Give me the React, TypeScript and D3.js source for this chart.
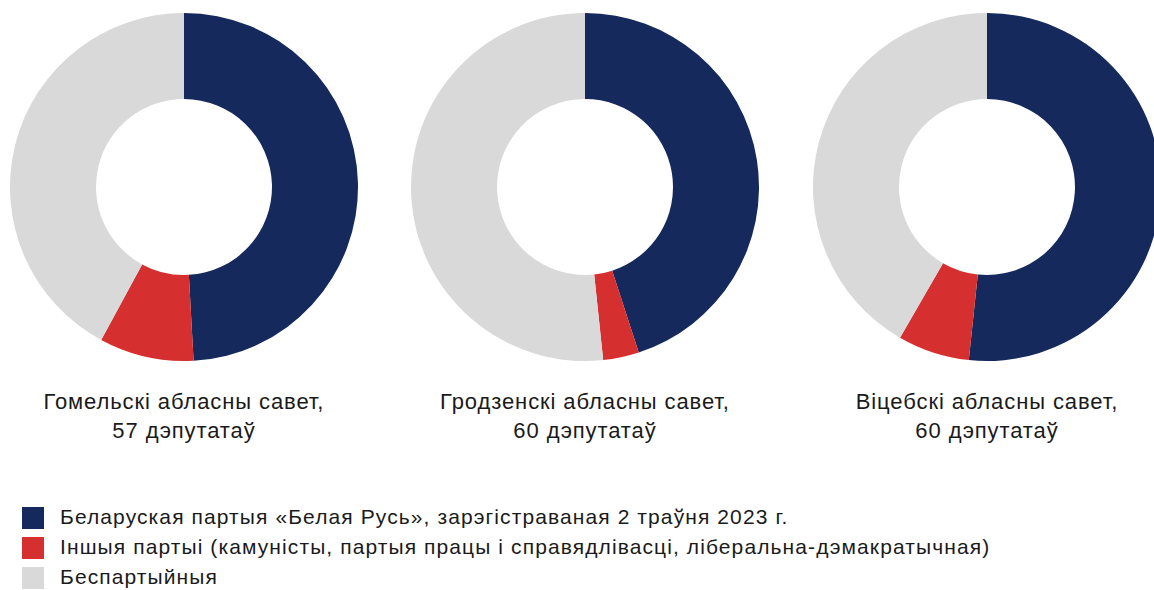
import React from "react";
import * as d3 from "d3";

const regions = ["Гомельскі абласны савет,", "Гродзенскі абласны савет,", "Віцебскі абласны савет,"];
const totals = ["57 дэпутатаў", "60 дэпутатаў", "60 дэпутатаў"];
const belayaRus = [28, 27, 31];
const otherParties = [5, 2, 4];
const nonParty = [24, 31, 25];
const legendLabels = [
  "Беларуская партыя «Белая Русь», зарэгістраваная 2 траўня 2023 г.",
  "Іншыя партыі (камуністы, партыя працы і справядлівасці, ліберальна-дэмакратычная)",
  "Беспартыйныя",
];
const colors = ["#15295c", "#d5302f", "#d9d9d9"];

const W = 1154;
const H = 590;
const centersX = [184, 585, 987];
const cy = 187;
const outerR = 174;
const innerR = 88;

export default function App() {
  const pie = d3.pie<number>().sort(null).value((d) => d);
  const arc = d3.arc<d3.PieArcDatum<number>>().innerRadius(innerR).outerRadius(outerR);
  const font = "'Liberation Sans', Arial, Helvetica, sans-serif";
  return (
    <svg width={W} height={H} style={{ position: "absolute", left: 0, top: 0, background: "#fff" }}>
      {regions.map((r, i) => {
        const arcs = pie([belayaRus[i], otherParties[i], nonParty[i]]);
        return (
          <g key={r}>
            <g transform={`translate(${centersX[i]},${cy})`}>
              {arcs.map((a, j) => (
                <path key={j} d={arc(a) || ""} fill={colors[j]} />
              ))}
            </g>
            <text x={centersX[i]} y={409} textAnchor="middle" fontFamily={font} fontSize={22} letterSpacing={0.9} fill="#1a1a1a">
              {r}
            </text>
            <text x={centersX[i]} y={438} textAnchor="middle" fontFamily={font} fontSize={22} letterSpacing={0.9} fill="#1a1a1a">
              {totals[i]}
            </text>
          </g>
        );
      })}
      {legendLabels.map((l, i) => (
        <g key={l} transform={`translate(22,${507 + i * 30})`}>
          <rect x={0} y={0} width={22} height={22} fill={colors[i]} />
          <text x={38} y={17} fontFamily={font} fontSize={21} letterSpacing={1.1} fill="#1a1a1a">
            {l}
          </text>
        </g>
      ))}
    </svg>
  );
}
